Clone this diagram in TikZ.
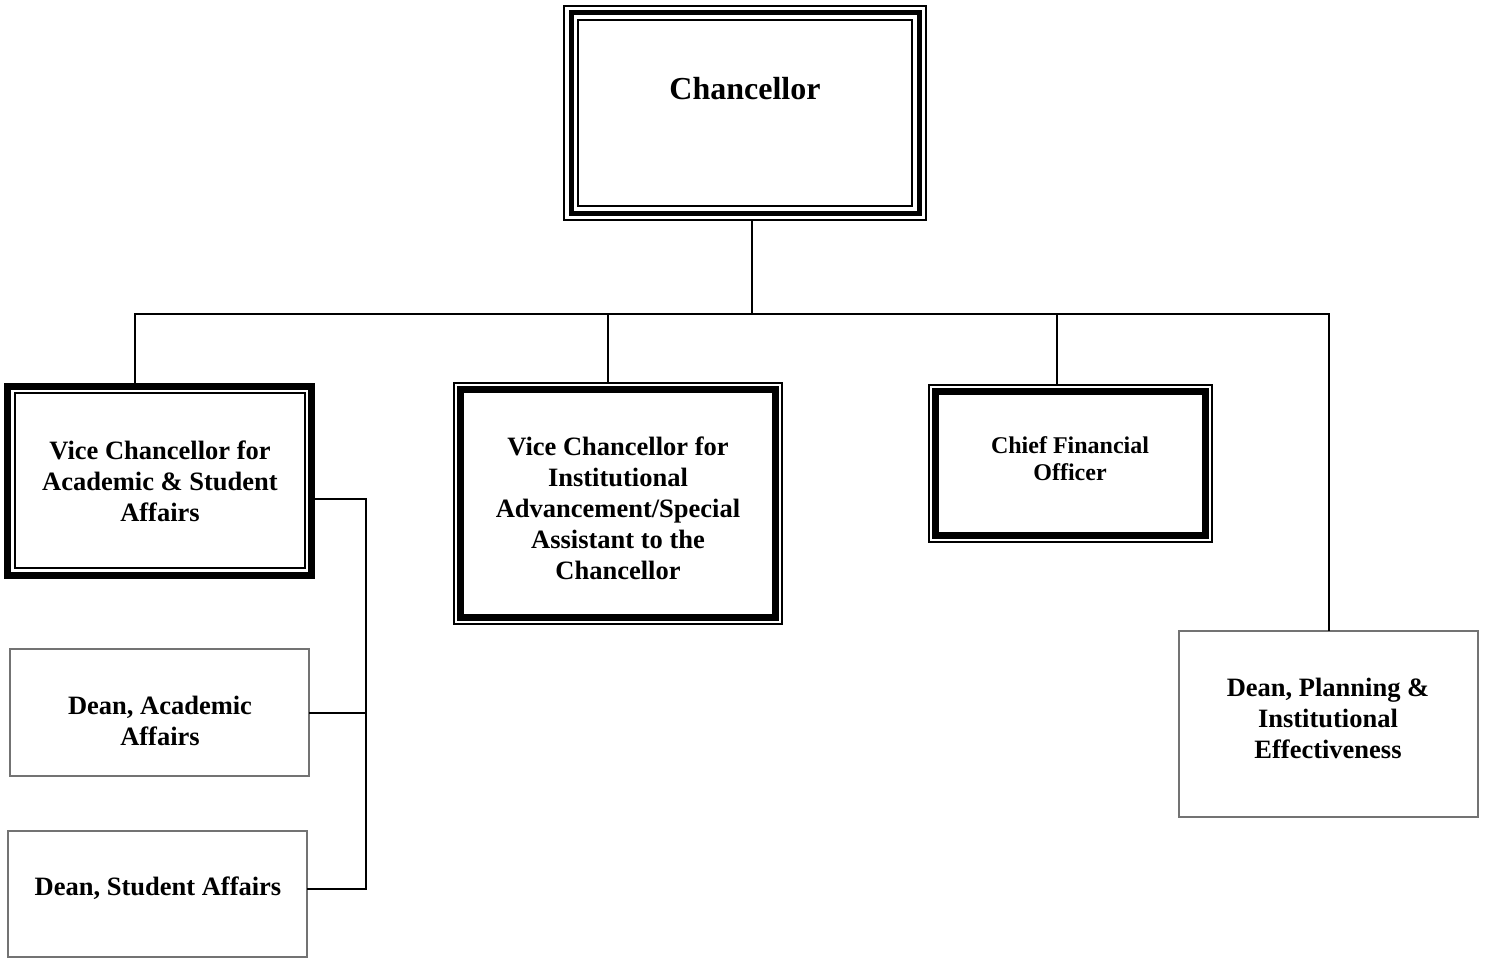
\documentclass[tikz,border=0pt]{standalone}
\usepackage{fontspec}
\setmainfont{Liberation Serif}
\usetikzlibrary{calc}
\tikzset{
  box/.style={rectangle,inner sep=0pt,outer sep=0pt},
  txt/.style={align=center,inner sep=0pt,font=\bfseries\fontsize{26.5}{31}\selectfont},
  conn/.style={draw=black,line width=2pt},
  thinline/.style={line width=2pt},
  thickline/.style={line width=7pt},
  deanbox/.style={box,draw=black!55,line width=1.3pt}
}
\begin{document}
\begin{tikzpicture}[x=1pt,y=-1pt]
\useasboundingbox[fill=white] (0,0) rectangle (1485,958);
% boxes
\node[box,minimum width=362,minimum height=214] (chan) at (745,113) {};
\node[box,minimum width=304,minimum height=189] (vcasa) at (159.5,480.5) {};
\node[box,minimum width=328,minimum height=241] (vcia) at (618,503.5) {};
\node[box,minimum width=283,minimum height=157] (cfo) at (1070.5,463.5) {};
\node[deanbox,minimum width=299,minimum height=127] (dacad) at (159.5,712.5) {};
\node[deanbox,minimum width=299,minimum height=126] (dstud) at (157.5,894) {};
\node[deanbox,minimum width=299,minimum height=186] (dplan) at (1328.5,724) {};
% Chancellor frame: thin, thick, thin
\draw[thinline] (chan.north west) rectangle (chan.south east);
\draw[line width=5pt] ($(chan.north west)+(7,7)$) rectangle ($(chan.south east)+(-7,-7)$);
\draw[thinline] ($(chan.north west)+(14,14)$) rectangle ($(chan.south east)+(-14,-14)$);
% VC A&SA frame: thick outside, thin inside
\draw[thickline] (vcasa.north west) rectangle (vcasa.south east);
\draw[thinline] ($(vcasa.north west)+(7,7)$) rectangle ($(vcasa.south east)+(-7,-7)$);
% VC IA frame: thin outside, thick inside
\draw[thinline] (vcia.north west) rectangle (vcia.south east);
\draw[thickline] ($(vcia.north west)+(6.5,6.5)$) rectangle ($(vcia.south east)+(-6.5,-6.5)$);
% CFO frame
\draw[thinline] (cfo.north west) rectangle (cfo.south east);
\draw[thickline] ($(cfo.north west)+(6.5,6.5)$) rectangle ($(cfo.south east)+(-6.5,-6.5)$);
% texts
\node[txt,font=\bfseries\fontsize{32}{38}\selectfont] (chant) at (745,89) {Chancellor};
\node[txt] (vcasat) at (160,481) {Vice Chancellor for\\Academic \& Student\\Affairs};
\node[txt] (vciat) at (618,508) {Vice Chancellor for\\Institutional\\Advancement/Special\\Assistant to the\\Chancellor};
\node[txt,font=\bfseries\fontsize{24}{27}\selectfont] (cfot) at (1070,459) {Chief Financial\\Officer};
\node[txt] (dacadt) at (160,721) {Dean, Academic\\Affairs};
\node[txt] (dstudt) at (158,888) {Dean, Student Affairs};
\node[txt] (dplant) at (1328,718) {Dean, Planning \&\\Institutional\\Effectiveness};
% connectors
\coordinate (bus) at (752,314);
\draw[conn] (chan.south -| bus) -- (bus);
\draw[conn] (vcasa.north -| 135,0) |- (bus) -| (dplan.north);
\draw[conn] (vcia.north -| 608,0) -- (608,314);
\draw[conn] (cfo.north -| 1057,0) -- (1057,314);
\coordinate (spine) at (366,499);
\coordinate (spinebot) at (366,889);
\draw[conn] (vcasa.east |- spine) -- (spine) -- (spinebot) -- (spinebot -| dstud.east);
\draw[conn] (dacad.east) -- (dacad.east -| spine);
\end{tikzpicture}
\end{document}
